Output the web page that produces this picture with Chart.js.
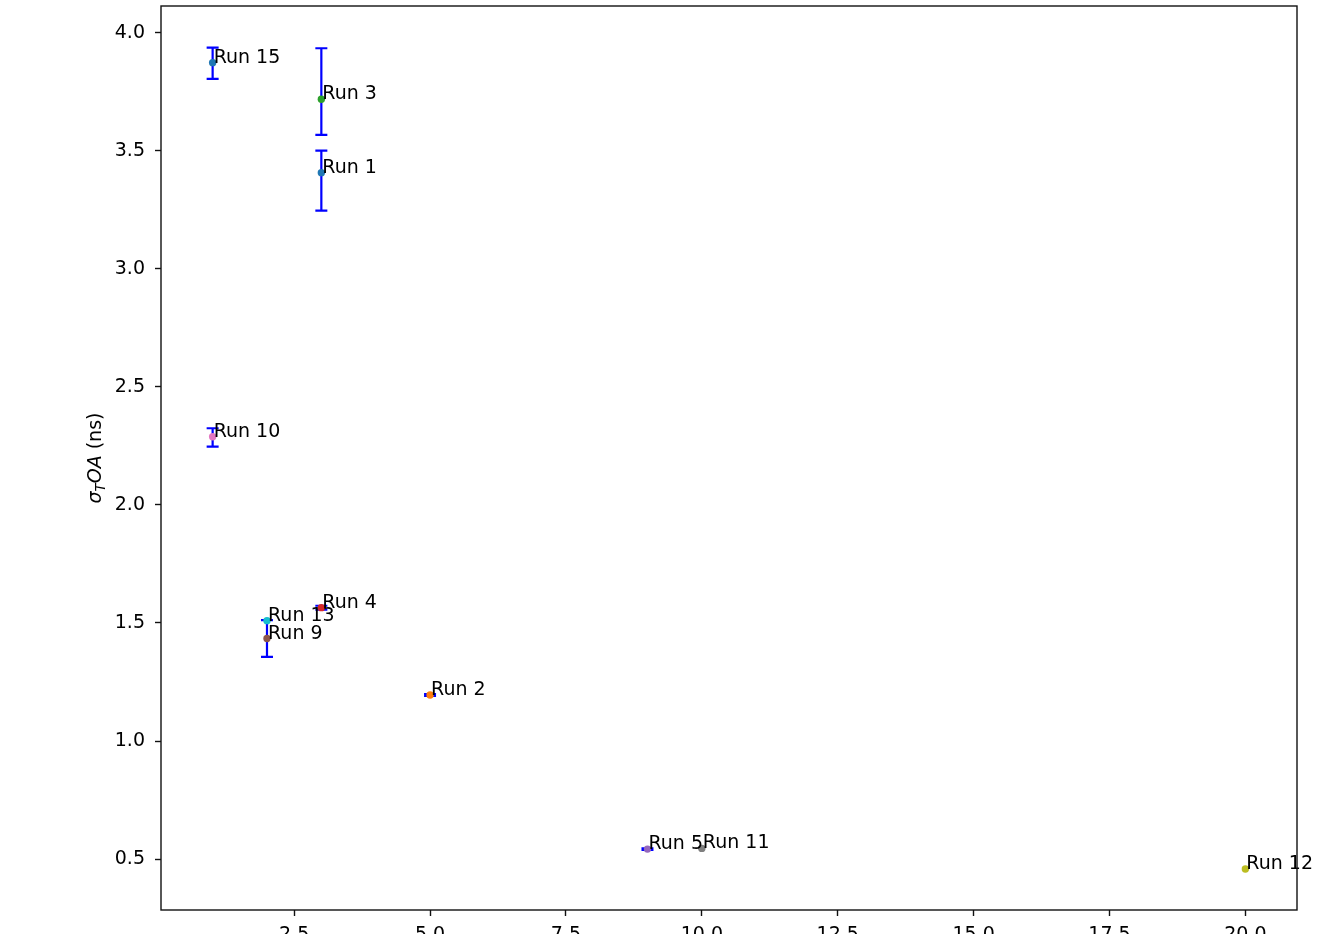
<!DOCTYPE html>
<html>
<head>
<meta charset="utf-8">
<title>σ_TOA per run</title>
<script src="https://cdn.jsdelivr.net/npm/chart.js@4/dist/chart.umd.min.js"></script>
<style>
  html, body { margin: 0; padding: 0; background: #fff; overflow: hidden; }
  #wrap { width: 1320px; height: 934px; }
</style>
</head>
<body>
<div id="wrap"><canvas id="chart" width="1320" height="934"></canvas></div>
<script>
// Runs, in plotting order
const runLabels = ['Run 1', 'Run 2', 'Run 3', 'Run 4', 'Run 5', 'Run 9', 'Run 10', 'Run 11', 'Run 12', 'Run 13', 'Run 15'];
// Horizontal value of each run
const xValues = [3, 5, 3, 3, 9, 2, 1, 10, 20, 2, 1];
// Timing resolution sigma_TOA (ns)
const sigmaValues = [3.408, 1.195, 3.719, 1.565, 0.542, 1.434, 2.289, 0.545, 0.458, 1.510, 3.874];
// Error bar bounds (ns); null where no bar is drawn
const errLower = [3.247, 1.191, 3.568, 1.557, 0.539, 1.356, 2.247, null, null, null, 3.805];
const errUpper = [3.501, 1.199, 3.935, 1.573, 0.545, 1.512, 2.325, null, null, null, 3.938];
// Tick labels
const xTickValues = [2.5, 5.0, 7.5, 10.0, 12.5, 15.0, 17.5, 20.0];
const yTickValues = [0.5, 1.0, 1.5, 2.0, 2.5, 3.0, 3.5, 4.0];

const markerColors = ['#1f77b4', '#ff7f0e', '#2ca02c', '#d62728', '#9467bd', '#8c564b',
                      '#e377c2', '#7f7f7f', '#bcbd22', '#17becf', '#1f77b4'];
const FONT = 'DejaVu Sans';
const FONT_SIZE = 19;

// Vertical error bars, drawn underneath the markers
const errorBars = {
  id: 'errorBars',
  beforeDatasetsDraw(chart) {
    const { ctx, scales: { x, y } } = chart;
    ctx.save();
    ctx.strokeStyle = '#0000ff';
    ctx.lineWidth = 2.2;
    xValues.forEach((xv, i) => {
      if (errLower[i] === null) return;
      const px = x.getPixelForValue(xv);
      const yLo = y.getPixelForValue(errLower[i]);
      const yHi = y.getPixelForValue(errUpper[i]);
      ctx.beginPath();
      ctx.moveTo(px, yLo); ctx.lineTo(px, yHi);
      ctx.moveTo(px - 6, yLo); ctx.lineTo(px + 6, yLo);
      ctx.moveTo(px - 6, yHi); ctx.lineTo(px + 6, yHi);
      ctx.stroke();
    });
    ctx.restore();
  }
};

// Run names written next to each point
const runNames = {
  id: 'runNames',
  afterDatasetsDraw(chart) {
    const { ctx, scales: { x, y } } = chart;
    ctx.save();
    ctx.font = `${FONT_SIZE}px "${FONT}"`;
    ctx.fillStyle = '#000';
    ctx.textAlign = 'left';
    ctx.textBaseline = 'alphabetic';
    runLabels.forEach((label, i) => {
      ctx.fillText(label, x.getPixelForValue(xValues[i]) + 1, y.getPixelForValue(sigmaValues[i]));
    });
    ctx.restore();
  }
};

// Box around the plotting area and the rotated y-axis title
const frameAndTitle = {
  id: 'frameAndTitle',
  afterDraw(chart) {
    const { ctx, chartArea: a } = chart;
    ctx.save();
    ctx.strokeStyle = '#111';
    ctx.lineWidth = 1.4;
    ctx.strokeRect(a.left, a.top, a.right - a.left, a.bottom - a.top);

    // σ_T OA (ns)
    const parts = [
      { t: 'σ', font: `italic ${FONT_SIZE}px "${FONT}"`, dy: 0 },
      { t: 'T', font: `italic ${FONT_SIZE * 0.7}px "${FONT}"`, dy: 4 },
      { t: 'OA', font: `italic ${FONT_SIZE}px "${FONT}"`, dy: 0 },
      { t: ' (ns)', font: `${FONT_SIZE}px "${FONT}"`, dy: 0 }
    ];
    let total = 0;
    parts.forEach(p => { ctx.font = p.font; p.w = ctx.measureText(p.t).width; total += p.w; });
    ctx.translate(101, 458);
    ctx.rotate(-Math.PI / 2);
    ctx.fillStyle = '#000';
    ctx.textBaseline = 'alphabetic';
    ctx.textAlign = 'left';
    let cx = -total / 2;
    parts.forEach(p => { ctx.font = p.font; ctx.fillText(p.t, cx, p.dy); cx += p.w; });
    ctx.restore();
  }
};

const tickFont = { family: FONT, size: FONT_SIZE };

new Chart(document.getElementById('chart'), {
  type: 'scatter',
  data: {
    datasets: [{
      data: xValues.map((xv, i) => ({ x: xv, y: sigmaValues[i] })),
      pointBackgroundColor: markerColors,
      pointBorderWidth: 0,
      pointRadius: 3.7,
      pointHoverRadius: 3.7,
      showLine: false
    }]
  },
  options: {
    responsive: false,
    animation: false,
    events: [],
    layout: { padding: { top: 6, right: 23, left: 0, bottom: 0 } },
    plugins: { legend: { display: false }, tooltip: { enabled: false } },
    scales: {
      x: {
        type: 'linear',
        min: 0.05,
        max: 20.95,
        afterFit(s) { s.height = 24; s.paddingLeft = 0; s.paddingRight = 0; },
        afterBuildTicks(s) { s.ticks = xTickValues.map(v => ({ value: v })); },
        ticks: {
          callback: v => Number(v).toFixed(1),
          font: tickFont, color: '#000', padding: 8,
          maxRotation: 0, autoSkip: false
        },
        grid: { drawOnChartArea: false, drawTicks: true, tickLength: 6, tickColor: '#111', tickWidth: 1.4 },
        border: { display: false }
      },
      y: {
        type: 'linear',
        min: 0.284,
        max: 4.114,
        afterFit(s) { s.width = 161; s.paddingTop = 0; s.paddingBottom = 0; },
        afterBuildTicks(s) { s.ticks = yTickValues.map(v => ({ value: v })); },
        ticks: {
          callback: v => Number(v).toFixed(1),
          font: tickFont, color: '#000', padding: 10,
          autoSkip: false
        },
        grid: { drawOnChartArea: false, drawTicks: true, tickLength: 6, tickColor: '#111', tickWidth: 1.4 },
        border: { display: false }
      }
    }
  },
  plugins: [errorBars, runNames, frameAndTitle]
});
</script>
</body>
</html>
